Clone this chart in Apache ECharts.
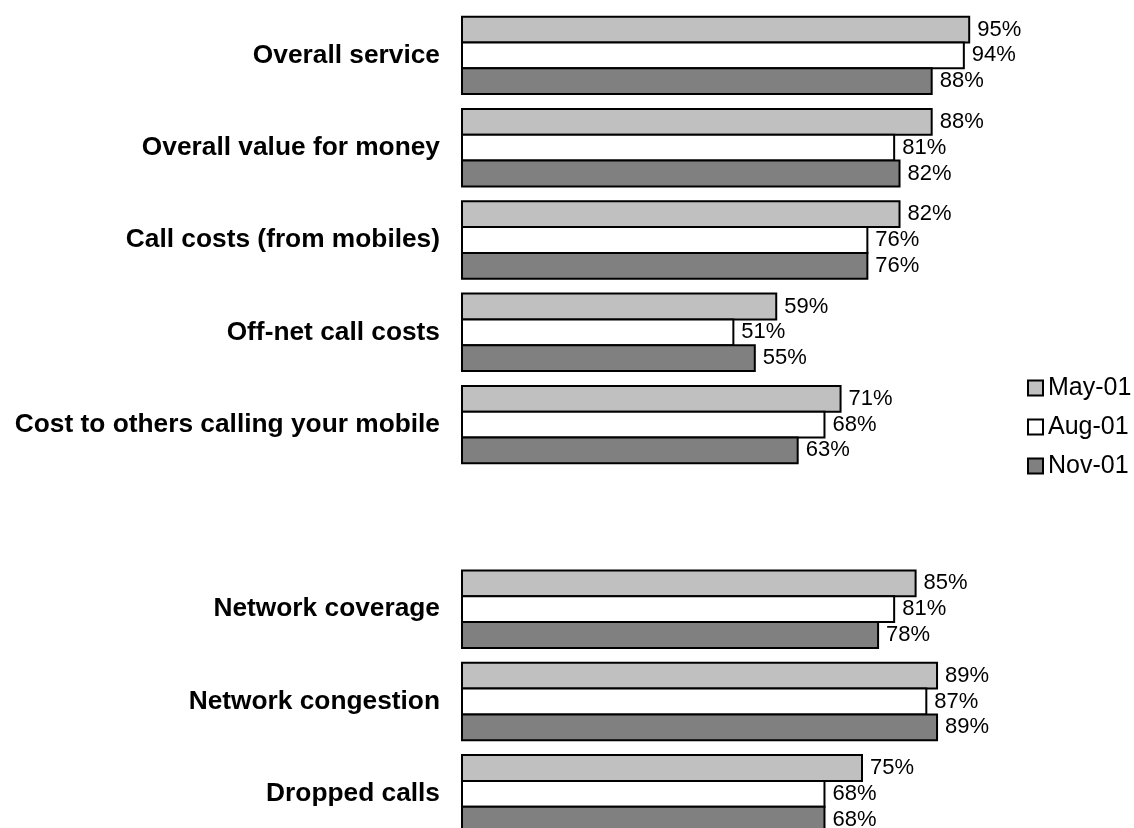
<!DOCTYPE html>
<html>
<head>
<meta charset="utf-8">
<title>Satisfaction ratings</title>
<script src="https://cdn.jsdelivr.net/npm/echarts@6/dist/echarts.min.js"></script>
<style>
  html, body { margin: 0; padding: 0; background: #ffffff; }
  #chart { width: 1134px; height: 828px; }
</style>
</head>
<body>
<div id="chart"></div>
<script>
// Rating categories, top to bottom; the empty entry separates the two blocks
const categories = [
  'Overall service',
  'Overall value for money',
  'Call costs (from mobiles)',
  'Off-net call costs',
  'Cost to others calling your mobile',
  '',
  'Network coverage',
  'Network congestion',
  'Dropped calls'
];

const seriesNames = ['May-01', 'Aug-01', 'Nov-01'];

// Percent satisfied per wave ('-' marks the spacer row)
const may01 = [95, 88, 82, 59, 71, '-', 85, 89, 75];
const aug01 = [94, 81, 76, 51, 68, '-', 81, 87, 68];
const nov01 = [88, 82, 76, 55, 63, '-', 78, 89, 68];

const seriesColors = ['#c0c0c0', '#ffffff', '#808080'];
const fontFamily = '"Liberation Sans", Arial, Helvetica, sans-serif';

// Borders are drawn inside each bar, so neighbouring bars overlap by one
// border width to share a single outline.
const borderWidth = 2;
const barWidth = 27.8;
const barGap = (-borderWidth / barWidth * 100).toFixed(2) + '%';

const chart = echarts.init(document.getElementById('chart'), null, { renderer: 'canvas' });

function barSeries(name, values, color) {
  return {
    name: name,
    type: 'bar',
    data: values,
    barWidth: barWidth,
    barGap: barGap,
    itemStyle: { color: color, borderColor: '#000000', borderWidth: borderWidth },
    label: {
      show: true,
      position: 'right',
      distance: 7,
      formatter: '{c}%',
      color: '#000000',
      fontSize: 22,
      fontFamily: fontFamily
    }
  };
}

chart.setOption({
  animation: false,
  backgroundColor: '#ffffff',
  grid: {
    left: 461,
    top: 9.25,
    width: 536,
    height: 830.7,
    containLabel: false,
    outerBoundsMode: 'none'
  },
  xAxis: {
    type: 'value',
    min: 0,
    max: 100,
    show: false
  },
  yAxis: {
    type: 'category',
    inverse: true,
    data: categories,
    axisLine: { show: false },
    axisTick: { show: false },
    splitLine: { show: false },
    axisLabel: {
      margin: 21,
      color: '#000000',
      fontSize: 26.3,
      fontWeight: 'bold',
      fontFamily: fontFamily
    }
  },
  legend: {
    orient: 'vertical',
    left: 1027,
    top: 375,
    padding: 0,
    icon: 'rect',
    itemWidth: 15,
    itemHeight: 15,
    itemGap: 13,
    itemStyle: { borderColor: '#000000', borderWidth: 2 },
    textStyle: { color: '#000000', fontSize: 25, lineHeight: 26, fontFamily: fontFamily },
    data: seriesNames
  },
  series: [
    barSeries(seriesNames[0], may01, seriesColors[0]),
    barSeries(seriesNames[1], aug01, seriesColors[1]),
    barSeries(seriesNames[2], nov01, seriesColors[2])
  ]
});
</script>
</body>
</html>
